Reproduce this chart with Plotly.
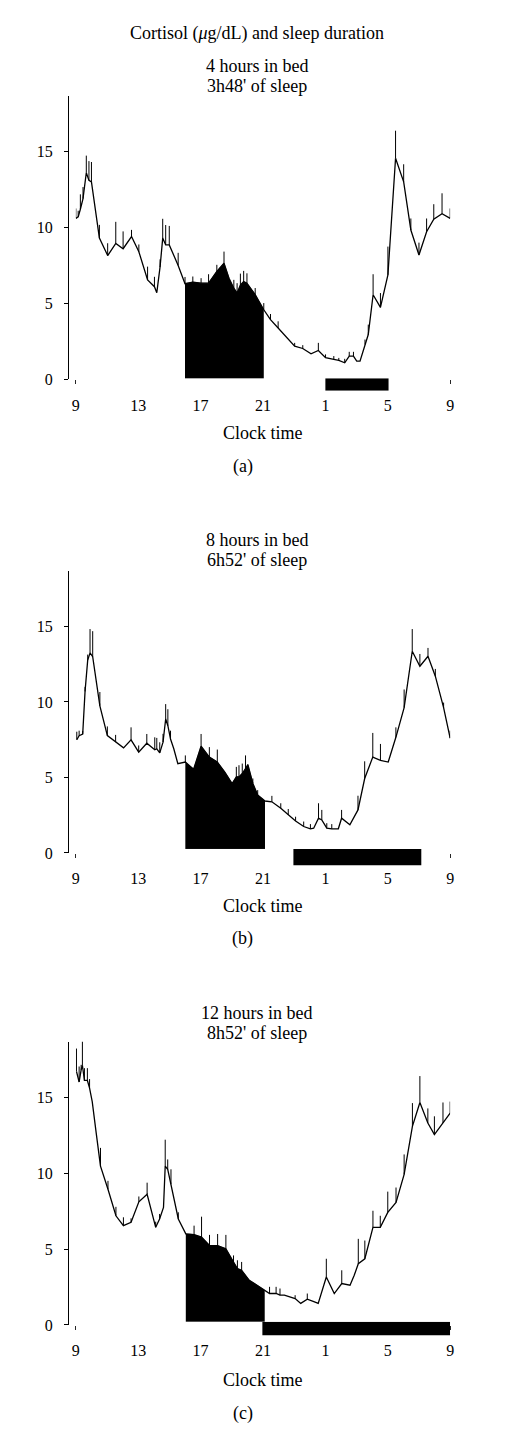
import plotly.graph_objects as go

W, H = 507, 1439
FONT = 'Liberation Serif'

# x is hours after 09:00, y is cortisol in ug/dL
HOUR_TICKS = [0, 4, 8, 12, 16, 20, 24]
HOUR_LABELS = ['9', '13', '17', '21', '1', '5', '9']
CORT_TICKS = [0, 5, 10, 15]
Y_MAX = 18.65

# (a) 4 hours in bed
A_HOURS = [0.0, 0.15, 0.29, 0.46, 0.67, 0.84, 1.0, 1.51, 2.04, 2.56, 3.03, 3.57,
           4.04, 4.6, 5.04, 5.19, 5.4, 5.57, 5.76, 5.99, 6.56, 7.0, 7.5, 8.03,
           8.51, 9.04, 9.5, 9.82, 10.13, 10.34, 10.55, 10.76, 10.97, 11.5, 12.05,
           12.48, 12.97, 13.5, 14.03, 14.55, 15.08, 15.55, 16.01, 16.54, 16.86,
           17.24, 17.53, 17.8, 18.01, 18.22, 18.54, 18.75, 19.06, 19.53, 20.01,
           20.5, 21.02, 21.48, 22.0, 22.49, 22.95, 23.48, 24.0]
A_CORT = [10.6, 10.7, 11.2, 11.9, 13.6, 13.1, 13.0, 9.3, 8.15, 8.95, 8.6, 9.4,
          8.4, 6.55, 6.1, 5.7, 7.4, 9.3, 8.85, 8.85, 7.5, 6.3, 6.4, 6.33,
          6.33, 7.1, 7.65, 6.66, 6.0, 5.68, 6.2, 6.44, 6.33, 5.57, 4.58,
          3.93, 3.38, 2.77, 2.18, 2.03, 1.68, 1.9, 1.42, 1.31, 1.24,
          1.09, 1.53, 1.53, 1.2, 1.2, 2.29, 2.95, 5.57, 4.74, 6.88,
          14.56, 13.0, 9.83, 8.19, 9.72, 10.55, 10.9, 10.6]
A_SEM = [0.65, 0.4, 0.98, 0.76, 1.13, 1.27, 1.31, 0.87, 0.81, 1.42, 1.14, 0.44,
         0.48, 0.87, 0.65, 0.0, 0.5, 1.27, 1.31, 1.25, 0.83, 0.44, 0.37, 0.33,
         0.59, 0.44, 0.76, 0.0, 0.55, 0.65, 0.76, 0.7, 0.65, 0.44, 0.44,
         0.37, 0.44, 0.0, 0.22, 0.22, 0.0, 0.5, 0.22, 0.22, 0.17,
         0.26, 0.28, 0.28, 0.0, 0.0, 0.33, 0.65, 1.35, 0.94, 1.86,
         1.81, 1.16, 0.76, 0.81, 0.87, 0.98, 1.35, 0.65]
A_BED = [16.0, 20.05]
A_EVENING = [7.0, 12.05]

# (b) 8 hours in bed
B_HOURS = [0.06, 0.21, 0.44, 0.59, 0.76, 0.91, 1.08, 1.29, 1.54, 2.02, 2.55, 3.06,
           3.54, 4.03, 4.55, 5.06, 5.19, 5.38, 5.59, 5.76, 5.9, 6.07, 6.28, 6.54,
           7.02, 7.55, 8.03, 8.56, 9.07, 9.55, 10.02, 10.29, 10.46, 10.67, 10.88,
           11.03, 11.35, 11.66, 12.13, 12.57, 13.14, 13.62, 14.09, 14.61, 15.04,
           15.25, 15.56, 15.77, 16.09, 16.41, 16.83, 17.04, 17.57, 18.09, 18.52,
           19.04, 19.53, 20.03, 20.52, 21.05, 21.57, 22.06, 22.58, 23.05, 23.58, 24.0]
B_CORT = [7.5, 7.77, 7.88, 10.7, 12.77, 13.25, 13.0, 11.4, 9.74, 7.77, 7.34, 6.96,
          7.49, 6.68, 7.27, 6.83, 6.9, 6.63, 7.34, 8.87, 8.43, 7.55, 6.9, 5.91,
          6.02, 5.54, 7.07, 6.35, 6.02, 5.36, 4.6, 5.04, 5.04, 5.26, 5.58,
          5.85, 4.6, 3.83, 3.44, 3.39, 2.96, 2.52, 2.12, 1.75, 1.6,
          1.64, 2.3, 2.19, 1.64, 1.6, 1.6, 2.3, 1.86, 2.85, 4.93,
          6.35, 6.13, 6.02, 7.66, 9.63, 13.36, 12.37, 13.03, 11.71, 9.63, 7.6]
B_SEM = [0.53, 0.33, 0.2, 0.3, 0.37, 1.58, 1.69, 0.0, 0.92, 0.61, 0.48, 0.0,
         0.83, 0.44, 0.61, 0.83, 0.72, 0.7, 0.55, 0.99, 1.09, 0.55, 0.0, 0.0,
         0.44, 0.0, 0.81, 0.66, 0.83, 0.0, 0.0, 0.66, 0.77, 0.66, 0.88,
         0.0, 0.33, 0.33, 0.0, 0.39, 0.33, 0.39, 0.28, 0.33, 0.31,
         0.0, 0.99, 0.66, 0.33, 0.31, 0.0, 0.55, 0.0, 0.94, 1.14,
         1.6, 1.09, 0.0, 0.66, 1.2, 1.47, 0.81, 0.55, 0.48, 0.33, 0.5]
B_BED = [13.95, 22.15]
B_EVENING = [7.0, 12.15]

# (c) 12 hours in bed
C_HOURS = [0.04, 0.21, 0.34, 0.42, 0.55, 0.74, 0.88, 1.05, 1.31, 1.58, 2.06, 2.57,
           3.05, 3.54, 4.04, 4.57, 5.12, 5.37, 5.62, 5.73, 5.89, 6.1, 6.57, 7.05,
           7.58, 8.06, 8.57, 9.09, 9.62, 10.11, 10.36, 10.63, 11.12, 11.62, 12.11,
           12.42, 12.84, 13.09, 13.37, 13.68, 14.06, 14.42, 14.84, 15.26, 15.54,
           16.06, 16.57, 17.05, 17.58, 17.85, 18.11, 18.53, 19.05, 19.52, 20.0,
           20.53, 21.05, 21.58, 22.06, 22.57, 22.99, 23.54, 24.0]
C_CORT = [16.7, 16.0, 16.8, 17.1, 16.1, 16.1, 15.6, 14.7, 12.6, 10.46, 8.94, 7.19,
          6.54, 6.76, 8.11, 8.61, 6.43, 6.98, 7.74, 10.46, 10.25, 9.27, 6.98, 6.0,
          5.95, 5.78, 5.23, 5.23, 5.01, 4.14, 3.71, 3.6, 2.94, 2.62, 2.29,
          2.07, 2.07, 1.96, 1.96, 1.85, 1.74, 1.42, 1.7, 1.53, 1.42,
          3.16, 2.07, 2.73, 2.62, 3.27, 4.03, 4.36, 6.43, 6.43, 7.41,
          8.07, 9.92, 13.08, 14.65, 13.3, 12.54, 13.3, 13.95]
C_SEM = [1.5, 1.02, 0.33, 1.74, 0.81, 0.81, 0.59, 0.0, 0.0, 1.2, 0.55, 0.59,
         0.55, 0.26, 0.35, 0.76, 0.37, 0.33, 0.0, 1.74, 0.65, 0.98, 0.44, 0.0,
         0.59, 1.35, 0.7, 0.76, 0.92, 0.44, 0.55, 0.55, 0.0, 0.0, 0.0,
         0.44, 0.44, 0.44, 0.0, 0.0, 0.22, 0.0, 0.37, 0.0, 0.0,
         1.2, 0.0, 0.87, 0.0, 0.0, 1.64, 1.2, 1.09, 0.76, 1.37,
         0.98, 1.31, 1.53, 1.74, 0.96, 1.2, 1.35, 0.76]
C_BED = [11.96, 24.0]
C_EVENING = [7.0, 12.15]

PANELS = [
    dict(hours=A_HOURS, cort=A_CORT, sem=A_SEM, bed=A_BED, evening=A_EVENING,
         lines=['4 hours in bed', "3h48' of sleep"], tag='(a)',
         zero=381.7, top=96.7, bar=(380.7, 393.3), head=(65, 85), xlab=434.3, tagy=468.3),
    dict(hours=B_HOURS, cort=B_CORT, sem=B_SEM, bed=B_BED, evening=B_EVENING,
         lines=['8 hours in bed', "6h52' of sleep"], tag='(b)',
         zero=858.3, top=575, bar=(854.3, 871), head=(541.7, 561.7), xlab=910, tagy=943.3),
    dict(hours=C_HOURS, cort=C_CORT, sem=C_SEM, bed=C_BED, evening=C_EVENING,
         lines=['12 hours in bed', "8h52' of sleep"], tag='(c)',
         zero=1333.3, top=1048.3, bar=(1330, 1344), head=(1018.3, 1038.3), xlab=1386.7, tagy=1420.7),
]

X_LEFT, X_RIGHT, Y_AXIS_X = 73, 453.3, 65


def px(x):
    return x / W


def py(y):
    # +1.5 px: text boxes sit a little high when centred
    return 1 - (y + 1.5) / H


def text(s, x, y, size=18):
    return dict(text=s, x=px(x), y=py(y), xref='paper', yref='paper',
                xanchor='center', yanchor='middle', showarrow=False,
                font=dict(family=FONT, size=size, color='black'))


fig = go.Figure()
layout = dict(width=W, height=H, margin=dict(l=0, r=0, t=0, b=0),
              paper_bgcolor='white', plot_bgcolor='white', showlegend=False,
              font=dict(family=FONT, color='black'))
annotations = [text('Cortisol (<i>μ</i>g/dL) and sleep duration', 257, 32.3)]

for i, p in enumerate(PANELS):
    n = 2 * i + 1
    m = n + 1
    xa, ya = 'x%d' % n, 'y%d' % n
    xb, yb = 'x%d' % m, 'y%d' % m

    lo, hi = p['evening']
    ev = [(h, c) for h, c in zip(p['hours'], p['cort']) if lo <= h <= hi]
    fig.add_trace(go.Scatter(x=[e[0] for e in ev], y=[e[1] for e in ev],
                             mode='lines', fill='tozeroy', fillcolor='black',
                             line=dict(color='black', width=0.5),
                             xaxis=xa, yaxis=ya, hoverinfo='skip'))
    fig.add_trace(go.Scatter(x=p['hours'], y=p['cort'], mode='lines',
                             line=dict(color='black', width=1.3),
                             error_y=dict(type='data', array=p['sem'],
                                          arrayminus=[0] * len(p['sem']),
                                          symmetric=False, color='black',
                                          thickness=1, width=0),
                             xaxis=xa, yaxis=ya))
    start, end = p['bed']
    fig.add_trace(go.Bar(x=[end - start], base=[start], y=[0.5], width=[1],
                         orientation='h', marker=dict(color='black', line=dict(width=0)),
                         xaxis=xb, yaxis=yb))

    # zero and top are pixel rows, so use them straight
    layout['xaxis%d' % n] = dict(
        domain=[px(X_LEFT), px(X_RIGHT)], range=[0, 24], anchor=ya,
        showline=True, linecolor='black', linewidth=1, ticks='outside',
        ticklen=4, tickwidth=1, tickcolor='black', tickvals=HOUR_TICKS,
        ticktext=HOUR_LABELS, showgrid=False, zeroline=False,
        tickfont=dict(family=FONT, size=16, color='black'), ticklabelstandoff=7)
    layout['yaxis%d' % n] = dict(
        domain=[1 - p['zero'] / H, 1 - p['top'] / H], range=[0, Y_MAX], anchor='free',
        position=px(Y_AXIS_X), showline=True, linecolor='black', linewidth=1,
        ticks='outside', ticklen=4, tickwidth=1, tickcolor='black',
        tickvals=CORT_TICKS, showgrid=False, zeroline=False,
        tickfont=dict(family=FONT, size=16, color='black'), ticklabelstandoff=8)
    layout['xaxis%d' % m] = dict(domain=[px(X_LEFT), px(X_RIGHT)], range=[0, 24],
                                 anchor=yb, visible=False)
    layout['yaxis%d' % m] = dict(domain=[1 - p['bar'][1] / H, 1 - p['bar'][0] / H],
                                 range=[0, 1], anchor=xb, visible=False)

    annotations.append(text(p['lines'][0], 257.5, p['head'][0]))
    annotations.append(text(p['lines'][1], 257.5, p['head'][1]))
    annotations.append(text('Clock time', 263, p['xlab']))
    annotations.append(text(p['tag'], 242.5, p['tagy']))

layout['annotations'] = annotations
fig.update_layout(**layout)
fig.write_html('out.html', config={'displayModeBar': False},
               post_script="document.body.style.margin = '0';")
